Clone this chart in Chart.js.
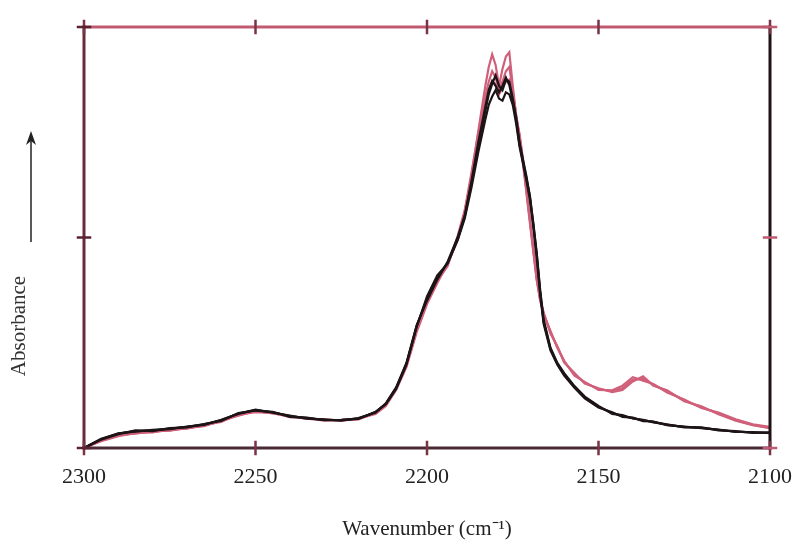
<!DOCTYPE html>
<html>
<head>
<meta charset="utf-8">
<script src="https://cdn.jsdelivr.net/npm/chart.js@4/dist/chart.umd.min.js"></script>
<style>
  html, body { margin: 0; padding: 0; background: #ffffff; }
  #wrap { width: 793px; height: 545px; position: relative; }
</style>
</head>
<body>
<div id="wrap"><canvas id="c" width="793" height="545"></canvas></div>
<script>
// Wavenumber grid (cm-1)
const wavenumbers = [2300,2295,2290,2285,2280,2275,2270,2265,2260,2255,2250,2245,2240,2235,2230,2225,2220,2215,2212,2209,2206,2203,2200,2197,2194,2191,2189,2187,2185,2183,2182,2181,2180,2179,2178,2177,2176,2175,2174,2173,2172,2171,2170,2169,2168,2167,2166,2164,2162,2160,2157,2154,2150,2146,2143,2140,2137,2134,2130,2125,2120,2115,2110,2105,2100];

// Absorbance (arbitrary units)
const pinkA = [0.000,0.018,0.030,0.035,0.039,0.042,0.047,0.053,0.064,0.078,0.087,0.083,0.075,0.070,0.067,0.066,0.068,0.083,0.103,0.140,0.195,0.280,0.345,0.395,0.435,0.500,0.560,0.650,0.755,0.860,0.905,0.935,0.910,0.860,0.900,0.930,0.940,0.860,0.790,0.740,0.680,0.610,0.540,0.470,0.400,0.350,0.320,0.275,0.240,0.205,0.175,0.155,0.140,0.135,0.142,0.162,0.165,0.150,0.135,0.113,0.097,0.082,0.066,0.055,0.048];
const pinkB = [0.000,0.016,0.028,0.036,0.037,0.044,0.046,0.055,0.062,0.080,0.085,0.084,0.073,0.071,0.065,0.067,0.070,0.081,0.100,0.138,0.192,0.275,0.342,0.392,0.438,0.495,0.555,0.640,0.740,0.835,0.870,0.895,0.880,0.850,0.870,0.895,0.905,0.850,0.790,0.735,0.675,0.605,0.535,0.465,0.398,0.352,0.318,0.278,0.238,0.207,0.172,0.157,0.138,0.137,0.148,0.168,0.160,0.152,0.132,0.115,0.095,0.084,0.068,0.056,0.050];
const pinkC = [0.000,0.019,0.031,0.034,0.040,0.041,0.048,0.052,0.065,0.077,0.088,0.082,0.076,0.069,0.068,0.065,0.069,0.084,0.104,0.142,0.197,0.283,0.347,0.398,0.432,0.505,0.565,0.655,0.750,0.820,0.850,0.870,0.865,0.840,0.855,0.870,0.875,0.830,0.785,0.745,0.685,0.615,0.545,0.475,0.405,0.355,0.322,0.272,0.242,0.203,0.178,0.153,0.142,0.133,0.138,0.158,0.170,0.148,0.137,0.111,0.099,0.080,0.065,0.054,0.047];
const blackA = [0.000,0.022,0.034,0.040,0.042,0.046,0.050,0.056,0.066,0.082,0.090,0.085,0.076,0.071,0.067,0.066,0.070,0.085,0.105,0.142,0.200,0.290,0.355,0.405,0.440,0.498,0.550,0.630,0.720,0.800,0.840,0.865,0.885,0.860,0.850,0.875,0.870,0.830,0.780,0.720,0.680,0.640,0.600,0.530,0.460,0.370,0.300,0.235,0.200,0.175,0.145,0.120,0.098,0.083,0.076,0.071,0.066,0.062,0.055,0.050,0.048,0.043,0.039,0.037,0.036];
const blackB = [0.000,0.020,0.033,0.042,0.040,0.047,0.049,0.057,0.064,0.083,0.089,0.086,0.074,0.072,0.066,0.067,0.069,0.086,0.104,0.140,0.198,0.288,0.360,0.410,0.438,0.495,0.545,0.620,0.705,0.780,0.815,0.835,0.850,0.830,0.825,0.845,0.840,0.815,0.770,0.715,0.675,0.635,0.590,0.525,0.450,0.365,0.295,0.232,0.198,0.172,0.143,0.118,0.096,0.085,0.074,0.072,0.064,0.063,0.054,0.051,0.047,0.044,0.038,0.038,0.035];
const blackC = [0.000,0.021,0.035,0.039,0.043,0.045,0.051,0.055,0.067,0.081,0.091,0.084,0.077,0.070,0.068,0.065,0.071,0.084,0.106,0.144,0.202,0.292,0.350,0.400,0.442,0.502,0.552,0.635,0.728,0.810,0.850,0.872,0.860,0.845,0.860,0.880,0.862,0.825,0.785,0.725,0.685,0.645,0.595,0.535,0.462,0.375,0.305,0.238,0.202,0.178,0.147,0.122,0.100,0.081,0.078,0.070,0.067,0.061,0.056,0.049,0.049,0.042,0.040,0.036,0.037];

const xTicks = [2300, 2250, 2200, 2150, 2100];
const yTicks = [0, 0.5, 1];
const xTitle = 'Wavenumber (cm\u207B\u00B9)';
const yTitle = 'Absorbance';

const PINK = '#d0607a';
const BLACK = '#1c1416';
const FONT = '"Liberation Serif", "Times New Roman", serif';

function toPoints(vals) { return wavenumbers.map((w, i) => ({ x: w, y: vals[i] })); }

const seriesList = [
  { name: 'black A', vals: blackA, color: BLACK },
  { name: 'black B', vals: blackB, color: BLACK },
  { name: 'black C', vals: blackC, color: BLACK },
  { name: 'pink A', vals: pinkA, color: PINK },
  { name: 'pink B', vals: pinkB, color: PINK },
  { name: 'pink C', vals: pinkC, color: PINK }
];

const framePlugin = {
  id: 'frame',
  afterDatasetsDraw(chart) {
    const { ctx, chartArea: a, scales } = chart;
    const xs = scales.x, ys = scales.y;
    ctx.save();
    ctx.lineCap = 'square';
    ctx.lineWidth = 3;
    const edge = (x1, y1, x2, y2, col) => {
      ctx.strokeStyle = col; ctx.beginPath(); ctx.moveTo(x1, y1); ctx.lineTo(x2, y2); ctx.stroke();
    };
    edge(a.left, a.top, a.right, a.top, '#c05a70');
    edge(a.left, a.top, a.left, a.bottom, '#6a2a3c');
    edge(a.right, a.top, a.right, a.bottom, '#1e1214');
    edge(a.left, a.bottom, a.right, a.bottom, '#4a2a34');
    ctx.lineWidth = 2.5;
    xTicks.forEach(v => {
      const px = xs.getPixelForValue(v);
      edge(px, a.bottom - 6, px, a.bottom + 6, '#7a3344');
      edge(px, a.top - 6, px, a.top + 6, '#7a3344');
    });
    yTicks.forEach(v => {
      const py = ys.getPixelForValue(v);
      edge(a.left - 6, py, a.left + 6, py, '#5a2230');
      edge(a.right - 6, py, a.right + 6, py, '#c05a70');
    });
    ctx.fillStyle = '#333';
    ctx.font = '21px ' + FONT;
    ctx.textAlign = 'center';
    ctx.textBaseline = 'middle';
    ctx.translate(19, 326);
    ctx.rotate(-Math.PI / 2);
    ctx.fillText(yTitle, 0, 0);
    ctx.restore();

    ctx.save();
    ctx.strokeStyle = '#222';
    ctx.fillStyle = '#222';
    ctx.lineWidth = 1.5;
    ctx.beginPath(); ctx.moveTo(31, 242); ctx.lineTo(31, 138); ctx.stroke();
    ctx.beginPath(); ctx.moveTo(31, 131); ctx.lineTo(26, 145); ctx.lineTo(31, 141); ctx.lineTo(36, 145); ctx.closePath(); ctx.fill();
    ctx.restore();
  }
};

new Chart(document.getElementById('c'), {
  type: 'line',
  data: {
    datasets: seriesList.map(s => ({
      label: s.name,
      data: toPoints(s.vals),
      borderColor: s.color,
      borderWidth: 2.2,
      pointRadius: 0,
      tension: 0,
      fill: false
    }))
  },
  options: {
    responsive: false,
    animation: false,
    layout: { padding: { left: 84, right: 23, top: 27, bottom: 0 } },
    plugins: { legend: { display: false }, tooltip: { enabled: false } },
    scales: {
      x: {
        type: 'linear',
        reverse: true,
        min: 2100,
        max: 2300,
        afterBuildTicks: (scale) => { scale.ticks = xTicks.map(v => ({ value: v })); },
        afterFit: (scale) => { scale.height = 97; scale.paddingLeft = 0; scale.paddingRight = 0; },
        grid: { display: false, drawTicks: false },
        border: { display: false },
        ticks: { color: '#222', font: { family: FONT, size: 22 }, padding: 16, maxRotation: 0, callback: (v) => String(v) },
        title: { display: true, text: xTitle, color: '#222', font: { family: FONT, size: 21 }, padding: { top: 0, bottom: 3 } }
      },
      y: {
        display: false,
        min: 0,
        max: 1
      }
    }
  },
  plugins: [framePlugin]
});
</script>
</body>
</html>
